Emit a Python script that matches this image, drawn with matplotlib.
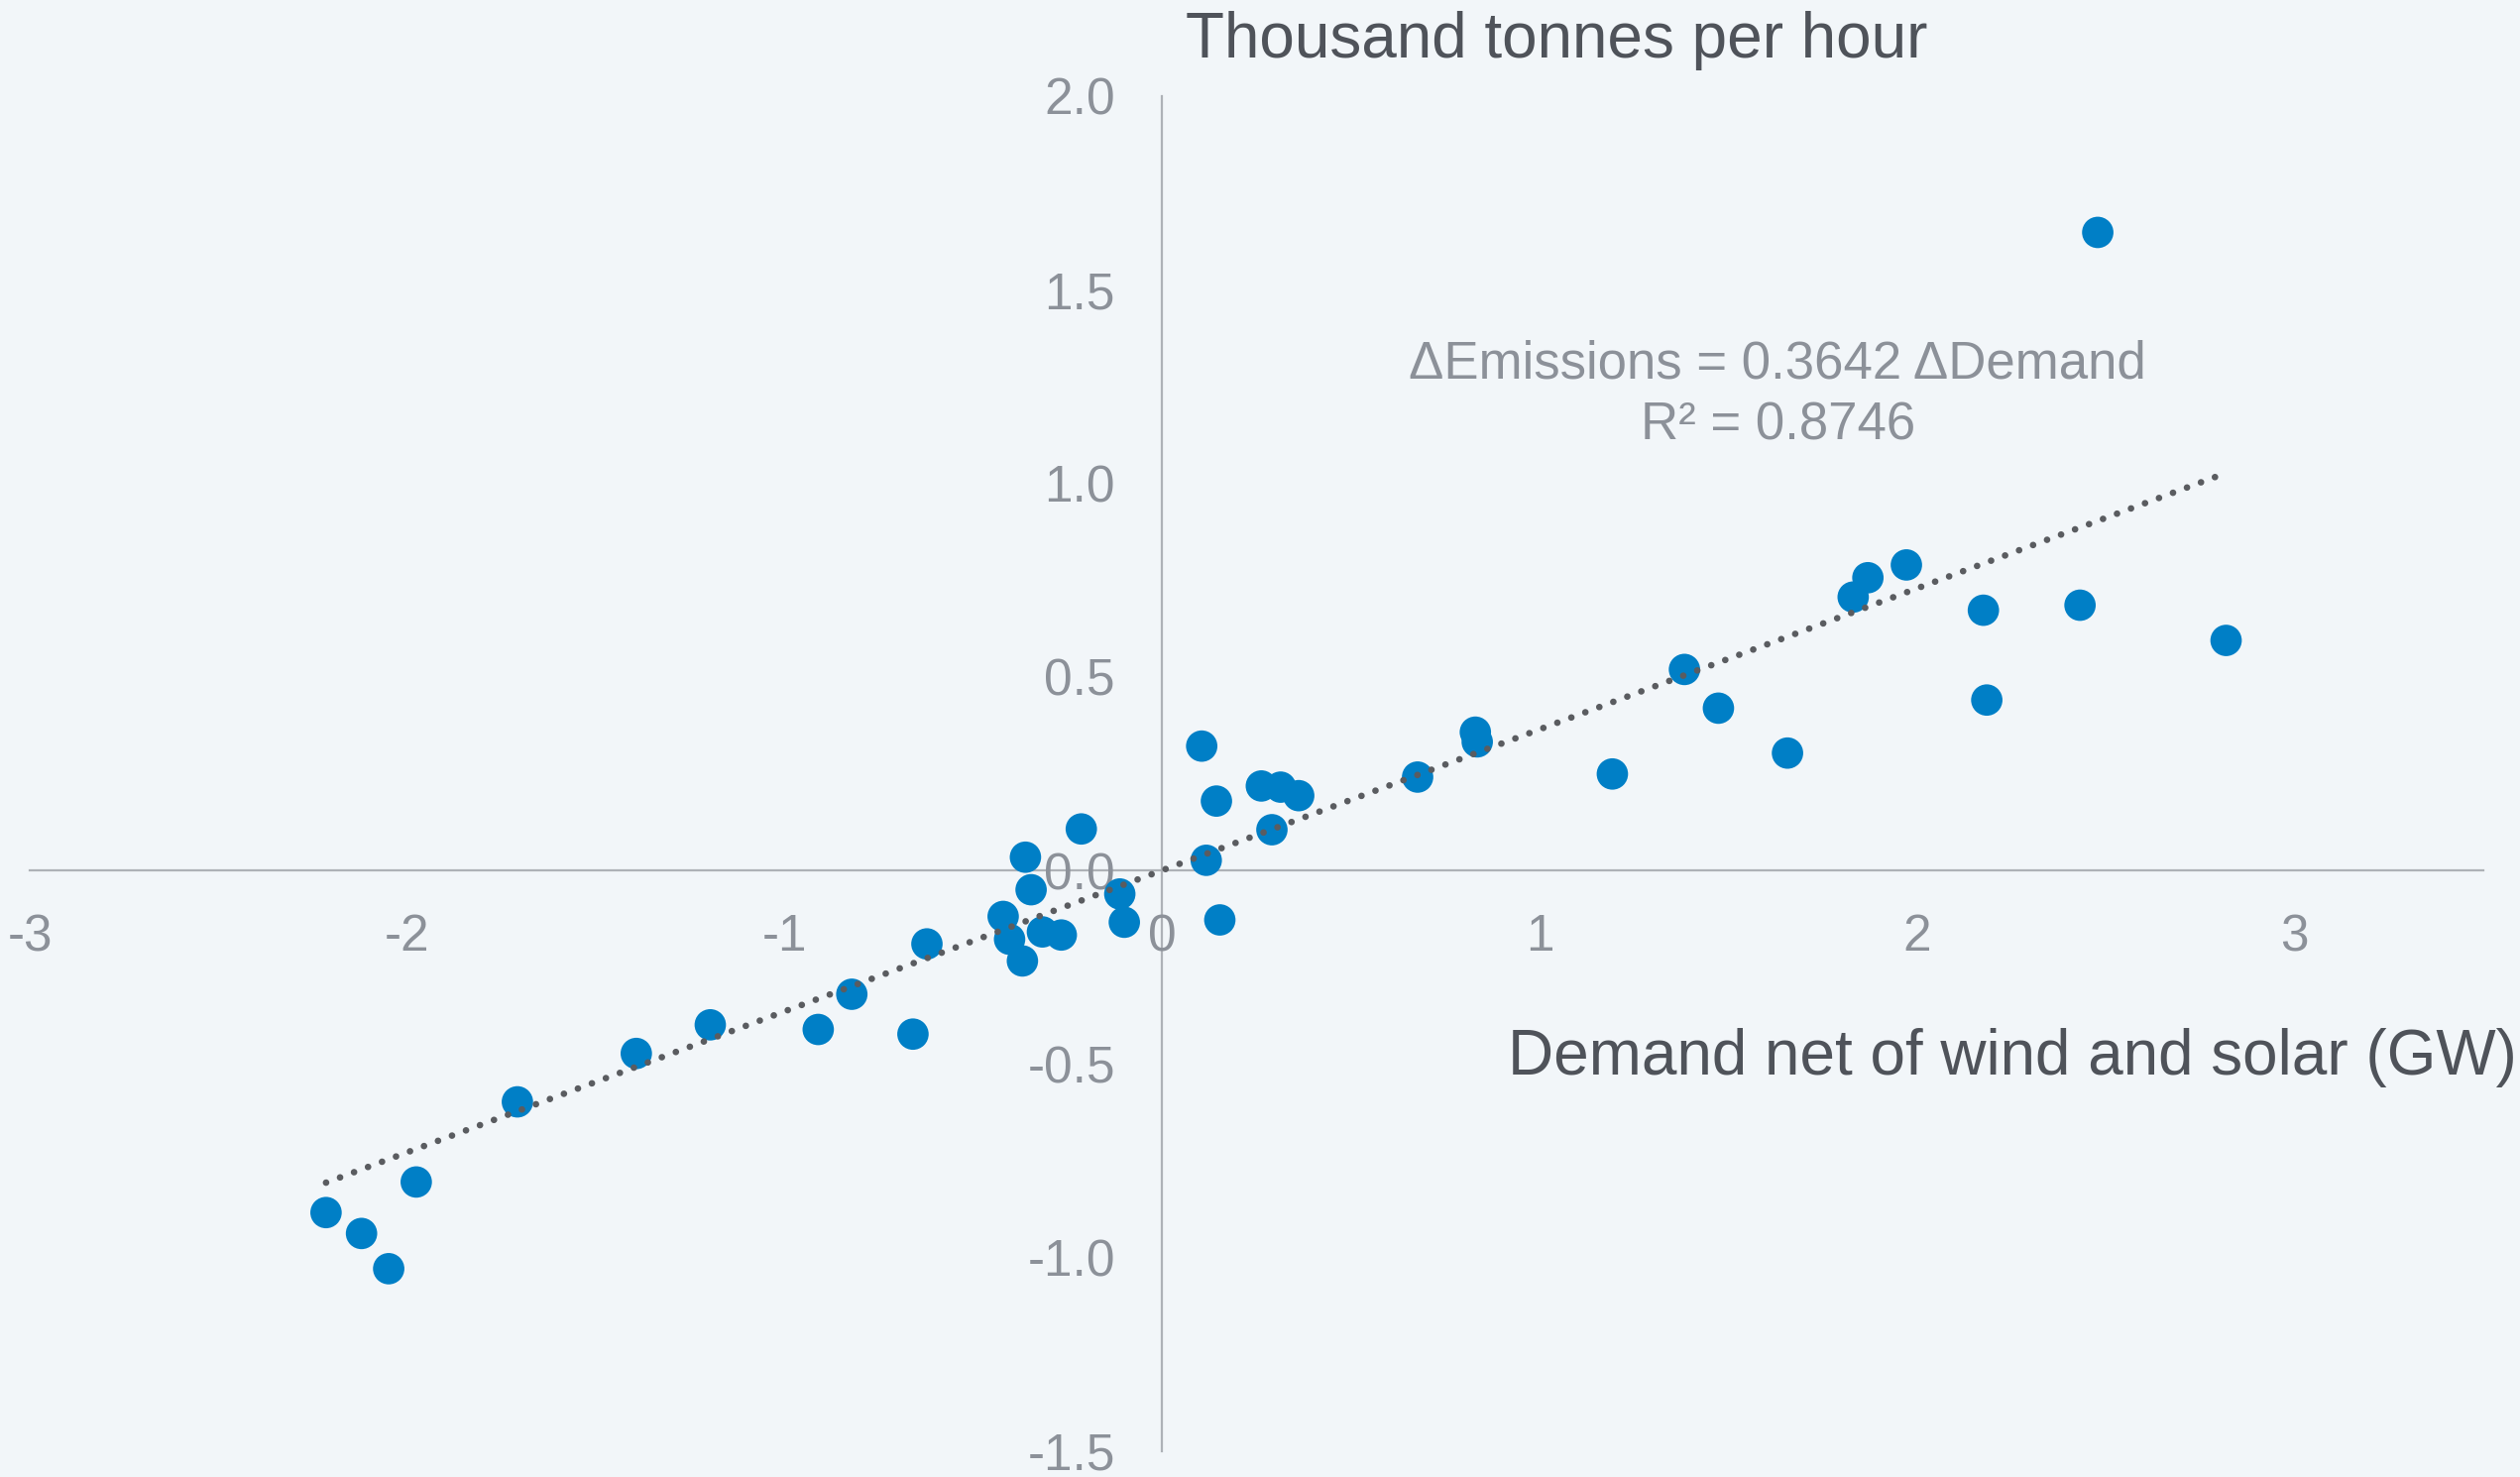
import matplotlib
matplotlib.use("Agg")
import matplotlib.pyplot as plt
import numpy as np

# Data
demand = [2.479, 1.972, 1.870, 1.831, 2.176, 2.432, 2.819, 2.185, 1.384, 1.474,
          1.657, 1.193, 0.830, 0.835, 0.677, 0.105, 0.263, 0.314, 0.362, 0.144,
          0.291, 0.117, 0.153, -0.214, -0.362, -0.347, -0.112, -0.100, -0.421,
          -0.404, -0.370, -0.317, -0.267, -0.623, -0.822, -0.911, -0.660,
          -1.197, -1.393, -1.708, -1.976, -2.215, -2.121, -2.049]
emissions = [1.648, 0.789, 0.756, 0.706, 0.672, 0.685, 0.594, 0.440, 0.519, 0.419,
             0.303, 0.249, 0.357, 0.332, 0.241, 0.321, 0.218, 0.215, 0.193, 0.179,
             0.105, 0.026, -0.128, 0.107, 0.034, -0.050, -0.061, -0.134, -0.119,
             -0.178, -0.234, -0.159, -0.167, -0.190, -0.320, -0.411, -0.423,
             -0.399, -0.473, -0.598, -0.805, -0.884, -0.938, -1.029]
slope = 0.3642
r_squared = 0.8746

x_ticks = [-3, -2, -1, 0, 1, 2, 3]
x_tick_labels = ["-3", "-2", "-1", "0", "1", "2", "3"]
y_ticks = [-1.5, -1.0, -0.5, 0.0, 0.5, 1.0, 1.5, 2.0]
y_tick_labels = ["-1.5", "-1.0", "-0.5", "0.0", "0.5", "1.0", "1.5", "2.0"]

title_text = "Thousand tonnes per hour"
xlabel_text = "Demand net of wind and solar (GW)"
eq_text = "\u0394Emissions = 0.3642 \u0394Demand"
r2_text = "R\u00b2 = 0.8746"

BG = "#F2F6F9"
DOT = "#007FC6"
TICK = "#8C9199"
DARK = "#4F535A"
AXIS = "#AEB2B7"
TREND = "#5A5C60"

plt.rcParams['font.family'] = ['Liberation Sans', 'DejaVu Sans']

fig = plt.figure(figsize=(25.42, 14.90), dpi=100)
fig.patch.set_facecolor(BG)
ax = fig.add_axes([30 / 2542, 26.2 / 1490, (2504.8 - 30) / 2542, (1463.8 - 97) / 1490])
ax.set_facecolor(BG)

ax.set_xlim(-3, 3.5)
ax.set_ylim(-1.5, 2.0)

for s in ['top', 'right']:
    ax.spines[s].set_visible(False)
ax.spines['left'].set_position(('data', 0))
ax.spines['bottom'].set_position(('data', 0))
for s in ['left', 'bottom']:
    ax.spines[s].set_color(AXIS)
    ax.spines[s].set_linewidth(1.6)
    ax.spines[s].set_zorder(1)

ax.set_xticks(x_ticks)
ax.set_xticklabels(x_tick_labels)
ax.set_yticks(y_ticks)
ax.set_yticklabels(y_tick_labels)
ax.tick_params(axis='x', length=0, pad=31, labelsize=37, labelcolor=TICK)
ax.tick_params(axis='y', length=0, pad=34, labelsize=37, labelcolor=TICK)

ax.scatter(demand, emissions, s=520, color=DOT, edgecolors='none', zorder=3)

xs = np.array([min(demand), max(demand)])
ax.plot(xs, slope * xs, color=TREND, lw=4.8, linestyle=(0, (0.01, 2.25)),
        dash_capstyle='round', zorder=4)

fig.text(1196 / 2542, 1 - 41 / 1490, title_text, ha='left', va='center',
         fontsize=46, color=DARK)
fig.text(1521 / 2542, 1 - 1067 / 1490, xlabel_text, ha='left', va='center',
         fontsize=46, color=DARK)
fig.text(1793 / 2542, 1 - 368 / 1490, eq_text, ha='center', va='center',
         fontsize=38, color=TICK)
fig.text(1794 / 2542, 1 - 429 / 1490, r2_text, ha='center', va='center',
         fontsize=38, color=TICK)

fig.savefig("out.png", dpi=100, facecolor=BG)
